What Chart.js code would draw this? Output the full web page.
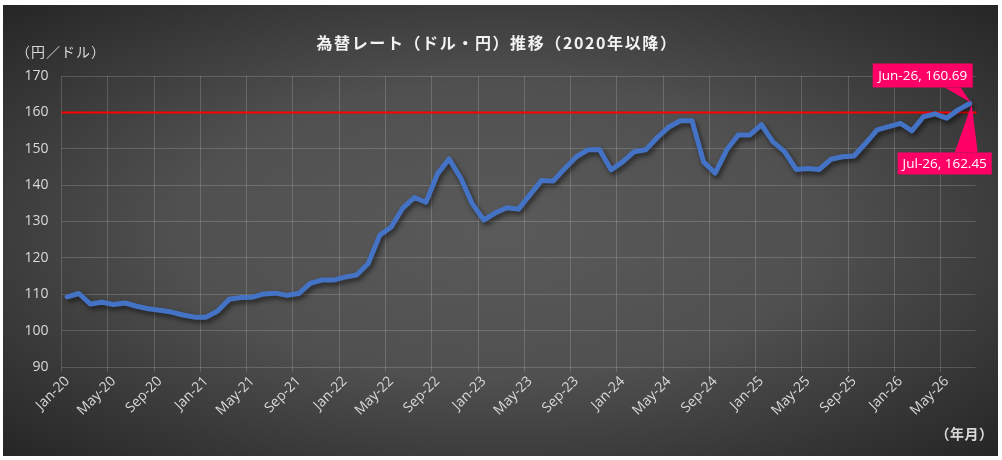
<!DOCTYPE html>
<html lang="ja">
<head>
<meta charset="utf-8">
<title>為替レート（ドル・円）推移</title>
<script src="https://cdn.jsdelivr.net/npm/chart.js@4.4.1/dist/chart.umd.min.js"></script>
<style>
  html, body { margin: 0; padding: 0; background: #ffffff; }
  #wrap { position: relative; width: 1002px; height: 460px; }
</style>
</head>
<body>
<div id="wrap"><canvas id="fxChart" width="1002" height="460"></canvas></div>
<script>
// monthly USD/JPY, Jan-20 .. Jul-26
const months = [
  'Jan-20','Feb-20','Mar-20','Apr-20','May-20','Jun-20','Jul-20','Aug-20','Sep-20','Oct-20','Nov-20','Dec-20',
  'Jan-21','Feb-21','Mar-21','Apr-21','May-21','Jun-21','Jul-21','Aug-21','Sep-21','Oct-21','Nov-21','Dec-21',
  'Jan-22','Feb-22','Mar-22','Apr-22','May-22','Jun-22','Jul-22','Aug-22','Sep-22','Oct-22','Nov-22','Dec-22',
  'Jan-23','Feb-23','Mar-23','Apr-23','May-23','Jun-23','Jul-23','Aug-23','Sep-23','Oct-23','Nov-23','Dec-23',
  'Jan-24','Feb-24','Mar-24','Apr-24','May-24','Jun-24','Jul-24','Aug-24','Sep-24','Oct-24','Nov-24','Dec-24',
  'Jan-25','Feb-25','Mar-25','Apr-25','May-25','Jun-25','Jul-25','Aug-25','Sep-25','Oct-25','Nov-25','Dec-25',
  'Jan-26','Feb-26','Mar-26','Apr-26','May-26','Jun-26','Jul-26'
];
const rates = [
  109.3, 110.2, 107.3, 107.8, 107.2, 107.6, 106.7, 106.0, 105.6, 105.1, 104.3, 103.7,
  103.7, 105.4, 108.6, 109.1, 109.2, 110.1, 110.3, 109.7, 110.2, 113.0, 113.9, 113.9,
  114.7, 115.3, 118.4, 126.2, 128.5, 133.7, 136.6, 135.3, 143.1, 147.2, 142.0, 134.9,
  130.4, 132.4, 133.8, 133.4, 137.4, 141.3, 141.1, 144.6, 147.8, 149.7, 149.8, 144.2,
  146.4, 149.2, 149.7, 153.1, 156.0, 157.7, 157.7, 146.4, 143.3, 149.7, 153.8, 153.8,
  156.6, 151.9, 149.2, 144.3, 144.6, 144.3, 147.1, 147.8, 148.0, 151.5, 155.2, 156.1,
  157.0, 154.9, 158.8, 159.6, 158.4, 160.69, 162.45
];
const yMin = 90;
const yMax = 170;
const yStep = 10;
const labelEvery = 4;        // tick label / vertical gridline every 4 months
const limitRate = 160;       // red line
const calloutIdx = [77, 78]; // Jun-26, Jul-26

const titleText = '為替レート（ドル・円）推移（2020年以降）';
const yTitleText = '（円／ドル）';
const xTitleText = '（年月）';

const gridColor = 'rgba(255,255,255,0.17)';
const tickColor = '#d9d9d9';
const calloutColor = '#ff0066';

const panelBackground = {
  id: 'panelBackground',
  beforeDraw(chart) {
    const ctx = chart.ctx;
    ctx.save();
    ctx.fillStyle = '#ffffff';
    ctx.fillRect(0, 0, chart.width, chart.height);
    const x = 3, y = 5, w = 995, h = 451;
    ctx.translate(x + w / 2, y + h / 2);
    ctx.scale(1, h / w);
    const g = ctx.createRadialGradient(0, 0, 0, 0, 0, w * 0.72);
    g.addColorStop(0, '#5a5a5a');
    g.addColorStop(0.45, '#505050');
    g.addColorStop(1, '#242424');
    ctx.fillStyle = g;
    ctx.fillRect(-w / 2, -w / 2, w, w);
    ctx.restore();
  }
};

const limitLine = {
  id: 'limitLine',
  beforeDatasetsDraw(chart) {
    const { ctx, chartArea, scales } = chart;
    const y = scales.y.getPixelForValue(limitRate);
    ctx.save();
    ctx.strokeStyle = '#ff0000';
    ctx.lineWidth = 2;
    ctx.beginPath();
    ctx.moveTo(chartArea.left, y);
    ctx.lineTo(chartArea.right + 1, y);
    ctx.stroke();
    ctx.restore();
  }
};

const lineShadow = {
  id: 'lineShadow',
  beforeDatasetDraw(chart) {
    const ctx = chart.ctx;
    ctx.save();
    ctx.shadowColor = 'rgba(0,0,0,0.55)';
    ctx.shadowBlur = 5;
    ctx.shadowOffsetX = 2;
    ctx.shadowOffsetY = 3;
  },
  afterDatasetDraw(chart) {
    chart.ctx.restore();
  }
};

function drawCallout(ctx, tip, base, box, text) {
  ctx.fillStyle = calloutColor;
  ctx.beginPath();
  ctx.moveTo(base[0], base[1]);
  ctx.lineTo(base[2], base[3]);
  ctx.lineTo(tip[0], tip[1]);
  ctx.closePath();
  ctx.fill();
  ctx.fillRect(box[0], box[1], box[2], box[3]);
  ctx.fillStyle = '#ffffff';
  ctx.textAlign = 'center';
  ctx.textBaseline = 'middle';
  ctx.fillText(text, box[0] + box[2] / 2, box[1] + box[3] / 2 + 1);
}

const callouts = {
  id: 'callouts',
  afterDatasetsDraw(chart) {
    const ctx = chart.ctx;
    const pts = chart.getDatasetMeta(0).data;
    const end = pts[pts.length - 1];
    const px = end.x, py = end.y;
    ctx.save();
    ctx.font = '13.5px "Open Sans", sans-serif';
    const [a, b] = calloutIdx;
    drawCallout(ctx, [px + 1, py - 1], [px - 25, py - 16, px - 9, py - 16],
      [px - 97, py - 40, 100, 24], months[a] + ', ' + rates[a]);
    drawCallout(ctx, [px + 2, py + 1], [px - 15, py + 49, px + 8, py + 49],
      [px - 72, py + 49, 94, 22], months[b] + ', ' + rates[b]);
    ctx.restore();
  }
};

const chartTexts = {
  id: 'chartTexts',
  afterDraw(chart) {
    const { ctx, chartArea } = chart;
    ctx.save();
    ctx.textBaseline = 'middle';
    ctx.fillStyle = '#f2f2f2';
    ctx.textAlign = 'center';
    ctx.letterSpacing = '1.6px';
    ctx.font = 'bold 16px "Noto Sans CJK JP", sans-serif';
    ctx.fillText(titleText, 497, 43);
    ctx.fillStyle = tickColor;
    ctx.textAlign = 'left';
    ctx.letterSpacing = '1px';
    ctx.font = '14px "Noto Sans CJK JP", sans-serif';
    ctx.fillText(yTitleText, 16, 52);
    ctx.textAlign = 'right';
    ctx.letterSpacing = '0.5px';
    ctx.font = 'bold 14px "Noto Sans CJK JP", sans-serif';
    ctx.fillText(xTitleText, chartArea.right + 18, 434);
    ctx.restore();
  }
};

function createFxChart() {
  const ctx = document.getElementById('fxChart');

  const fxData = {
    labels: months,
    datasets: [{
      label: 'USD/JPY',
      data: rates,
      borderColor: '#4472c4',
      borderWidth: 5,
      borderJoinStyle: 'round',
      borderCapStyle: 'round',
      pointRadius: 0,
      tension: 0,
      fill: false
    }]
  };

  const fxOptions = {
    responsive: false,
    animation: false,
    layout: { padding: { top: 76, right: 26.5, left: 10, bottom: 0 } },
    scales: {
      x: {
        offset: true,
        grid: {
          offset: true,
          color: (c) => (c.index % labelEvery === 0 ? gridColor : 'rgba(0,0,0,0)'),
          lineWidth: 1,
          drawTicks: true,
          tickLength: 5
        },
        border: { display: false },
        ticks: {
          autoSkip: false,
          minRotation: 45,
          maxRotation: 45,
          padding: 1,
          color: tickColor,
          font: { family: '"Open Sans", sans-serif', size: 14 },
          callback: (v, i) => (i % labelEvery === 0 ? months[i] : '')
        },
        afterFit: (scale) => { scale.height = 93; }
      },
      y: {
        min: yMin,
        max: yMax,
        grid: { color: gridColor, lineWidth: 1, drawTicks: false },
        border: { display: false },
        ticks: {
          stepSize: yStep,
          padding: 13,
          color: tickColor,
          font: { family: '"Open Sans", sans-serif', size: 14 }
        },
        afterFit: (scale) => { scale.width = 51.5; }
      }
    },
    plugins: {
      legend: { display: false },
      tooltip: { enabled: false }
    }
  };

  new Chart(ctx, {
    type: 'line',
    data: fxData,
    options: fxOptions,
    plugins: [panelBackground, limitLine, lineShadow, callouts, chartTexts]
  });
}

document.addEventListener('DOMContentLoaded', () => {
  createFxChart();
});
</script>
</body>
</html>
